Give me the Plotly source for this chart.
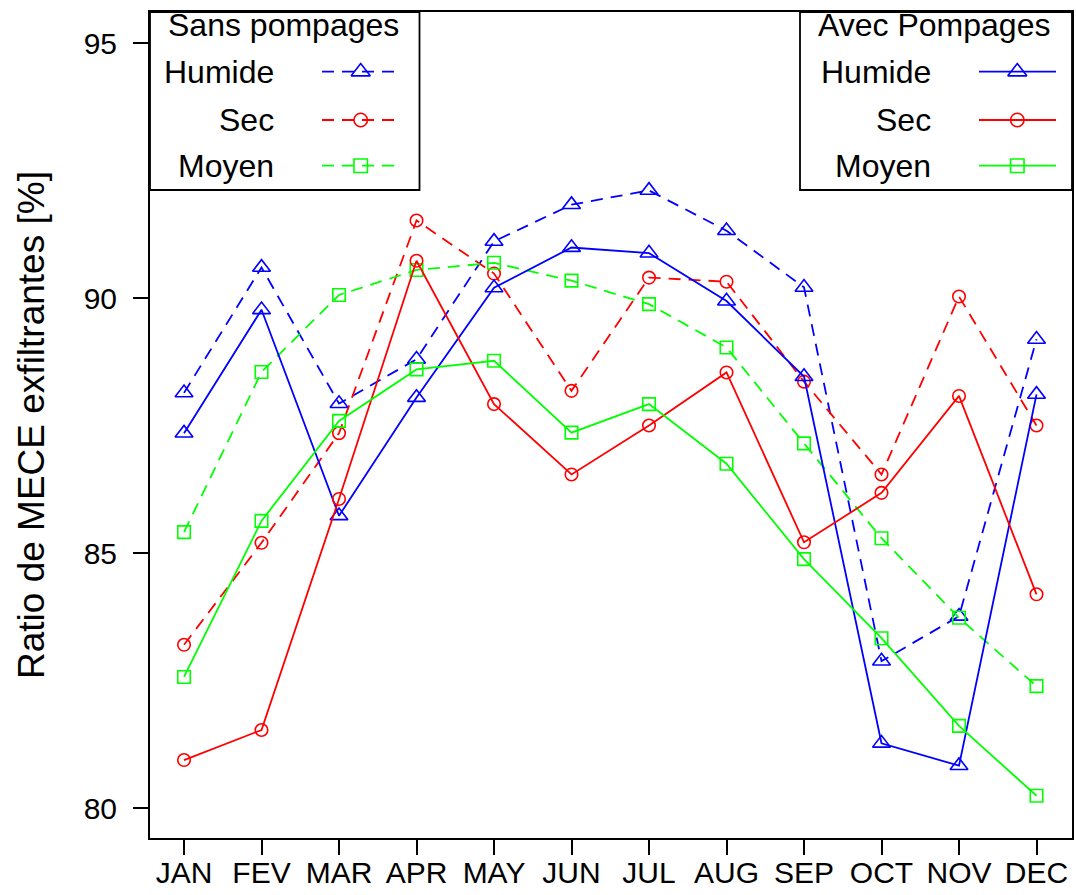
import plotly.graph_objects as go

months = ["JAN", "FEV", "MAR", "APR", "MAY", "JUN", "JUL", "AUG", "SEP", "OCT", "NOV", "DEC"]
y_ticks = [80, 85, 90, 95]

# Sans pompages (dashed)
sans_humide = [88.14, 90.60, 87.93, 88.80, 91.11, 91.83, 92.11, 91.32, 90.21, 82.88, 83.76, 89.19]
sans_sec = [83.20, 85.20, 87.35, 91.52, 90.48, 88.18, 90.40, 90.32, 88.36, 86.54, 90.03, 87.50]
sans_moyen = [85.41, 88.55, 90.06, 90.55, 90.69, 90.34, 89.88, 89.03, 87.15, 85.29, 83.73, 82.39]

# Avec pompages (solid)
avec_humide = [87.35, 89.77, 85.73, 88.05, 90.20, 90.99, 90.88, 89.94, 88.46, 81.27, 80.83, 88.11]
avec_sec = [80.94, 81.53, 86.06, 90.73, 87.92, 86.54, 87.50, 88.54, 85.21, 86.18, 88.08, 84.19]
avec_moyen = [82.57, 85.63, 87.59, 88.60, 88.77, 87.36, 87.92, 86.75, 84.88, 83.33, 81.61, 80.24]

series_names = ["Humide", "Sec", "Moyen"]
colors = ["#0000FF", "#FF0000", "#00FF00"]
symbols = ["triangle-up-open", "circle-open", "square-open"]
msizes = [15.5, 12.5, 12.5]

FONT = "Liberation Sans, Arial, Helvetica, sans-serif"
DASH = "12px,8px"
LW = 1.8

W, H = 1076, 895
L, R, T, B = 150, 4, 12, 57

x = list(range(len(months)))
fig = go.Figure()

sans = [sans_humide, sans_sec, sans_moyen]
avec = [avec_humide, avec_sec, avec_moyen]
for vals, dash in ((sans, DASH), (avec, "solid")):
    for i, v in enumerate(vals):
        fig.add_trace(go.Scatter(
            x=x, y=v, mode="lines+markers", showlegend=False,
            line=dict(color=colors[i], width=LW, dash=dash),
            marker=dict(symbol=symbols[i], size=msizes[i], color=colors[i],
                        line=dict(width=1.6, color=colors[i])),
            cliponaxis=False,
        ))

# ---- legend boxes drawn in a pixel-space overlay axis ----
def add_legend(x0, x1, title, title_x, label_right, key_x0, key_x1, key_mid, dash):
    fig.add_shape(type="rect", xref="x2", yref="y2", x0=x0, x1=x1, y0=12, y1=190,
                  line=dict(color="black", width=1.8), fillcolor="white", layer="below")
    fig.add_annotation(xref="x2", yref="y2", x=title_x, y=25, text=title, showarrow=False,
                       xanchor="left", yanchor="middle", font=dict(family=FONT, size=32, color="black"))
    for i, (name, ry) in enumerate(zip(series_names, [71.7, 120, 165.7])):
        fig.add_annotation(xref="x2", yref="y2", x=label_right, y=ry, text=name, showarrow=False,
                           xanchor="right", yanchor="middle",
                           font=dict(family=FONT, size=32, color="black"))
        fig.add_trace(go.Scatter(x=[key_x0, key_x1], y=[ry, ry], xaxis="x2", yaxis="y2",
                                 mode="lines", showlegend=False, hoverinfo="skip",
                                 line=dict(color=colors[i], width=LW, dash=dash)))
        fig.add_trace(go.Scatter(x=[key_mid], y=[ry], xaxis="x2", yaxis="y2",
                                 mode="markers", showlegend=False, hoverinfo="skip",
                                 marker=dict(symbol=symbols[i], size=msizes[i] + 1, color=colors[i],
                                             line=dict(width=1.6, color=colors[i]))))

add_legend(150, 419.5, "Sans pompages", 166, 276, 322, 399, 360.7, DASH)
add_legend(800, 1072, "Avec Pompages", 816, 933, 979, 1056, 1017.3, "solid")

fig.add_annotation(xref="paper", yref="paper", x=(31 - L) / (W - L - R), y=0.5,
                   text="Ratio de MECE exfiltrantes [%]", textangle=-90, showarrow=False,
                   xanchor="center", yanchor="middle",
                   font=dict(family=FONT, size=37, color="black"))

fig.update_layout(
    width=W, height=H,
    margin=dict(l=L, r=R, t=T, b=B, pad=0, autoexpand=False),
    paper_bgcolor="white", plot_bgcolor="white",
    font=dict(family=FONT, color="black"),
    xaxis=dict(range=[-0.439, 11.458], tickmode="array", tickvals=x, ticktext=months,
               showgrid=False, zeroline=False, showline=True, mirror=True, automargin=False,
               linecolor="black", linewidth=2, ticks="outside", ticklen=15, tickwidth=1.5,
               tickcolor="black", ticklabelstandoff=-8,
               tickfont=dict(family=FONT, size=30, color="black")),
    yaxis=dict(range=[79.412, 95.608], tickmode="array", tickvals=y_ticks,
               showgrid=False, zeroline=False, showline=True, mirror=True, automargin=False,
               linecolor="black", linewidth=2, ticks="outside", ticklen=15, tickwidth=1.5,
               tickcolor="black", ticklabelstandoff=10,
               tickfont=dict(family=FONT, size=30, color="black")),
    xaxis2=dict(overlaying="x", range=[L, W - R], visible=False, fixedrange=True),
    yaxis2=dict(overlaying="y", range=[H - B, T], visible=False, fixedrange=True),
)

fig.write_html("out.html", config={"displayModeBar": False},
               post_script="document.body.style.margin='0';document.body.style.padding='0';"
                           "document.body.style.overflow='hidden';")
